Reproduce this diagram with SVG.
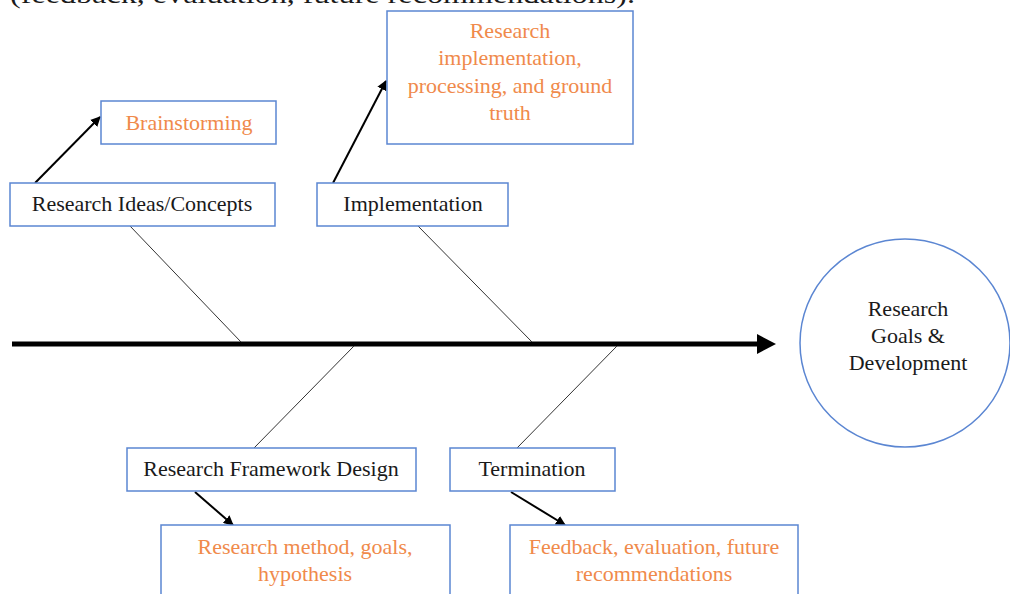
<svg xmlns="http://www.w3.org/2000/svg" width="1010" height="594" viewBox="0 0 1010 594">
  <defs>
    <style>
      .box { fill: #ffffff; stroke: #5b86d2; stroke-width: 1.5; }
      .lbl { font-family: "Liberation Serif", "Times New Roman", serif; font-size: 22px; fill: #1a1a1a; text-anchor: middle; }
      .sub { font-family: "Liberation Serif", "Times New Roman", serif; font-size: 22px; fill: #f08a4b; text-anchor: middle; }
      .bone { stroke: #333333; stroke-width: 1; fill: none; }
      .arr { stroke: #000000; stroke-width: 2; fill: none; marker-end: url(#head); }
    </style>
    <marker id="head" viewBox="0 0 10 10" refX="9" refY="5" markerWidth="5" markerHeight="5" orient="auto" markerUnits="strokeWidth">
      <path d="M0,0 L10,5 L0,10 z" fill="#000000"/>
    </marker>
  </defs>
  <rect width="1010" height="594" fill="#ffffff"/>

  <!-- caption line running off the top edge -->
  <text x="10" y="3" font-family="Liberation Serif, Times New Roman, serif" font-size="26" fill="#1a1a1a" textLength="625" lengthAdjust="spacingAndGlyphs">(feedback, evaluation, future recommendations).</text>

  <!-- connectors: spine, bones and sub-cause arrows -->
  <g id="connectors">
    <line x1="12" y1="344" x2="759" y2="344" stroke="#000000" stroke-width="5"/>
    <polygon points="757,334 776,344 757,354" fill="#000000"/>
    <line class="bone" x1="130" y1="226" x2="241" y2="342"/>
    <line class="bone" x1="418" y1="226" x2="532" y2="342"/>
    <line class="bone" x1="354" y1="346" x2="254" y2="448"/>
    <line class="bone" x1="617" y1="346" x2="517" y2="448"/>
    <line class="arr" x1="35" y1="183" x2="100" y2="117"/>
    <line class="arr" x1="333" y1="183" x2="386" y2="81"/>
    <line class="arr" x1="195" y1="492" x2="233" y2="525"/>
    <line class="arr" x1="511" y1="492" x2="565" y2="525"/>
  </g>

  <g id="brainstorming">
    <rect class="box" x="101" y="101" width="175" height="43"/>
    <text class="sub" x="189" y="130">Brainstorming</text>
  </g>

  <g id="ideas">
    <rect class="box" x="10" y="183" width="265" height="43"/>
    <text class="lbl" x="142" y="211">Research Ideas/Concepts</text>
  </g>

  <g id="implementation">
    <rect class="box" x="317" y="183" width="191" height="43"/>
    <text class="lbl" x="413" y="211">Implementation</text>
  </g>

  <g id="impl-detail">
    <rect class="box" x="387" y="11" width="246" height="133"/>
    <text class="sub" x="510" y="38">Research</text>
    <text class="sub" x="510" y="65">implementation,</text>
    <text class="sub" x="510" y="93">processing, and ground</text>
    <text class="sub" x="510" y="120">truth</text>
  </g>

  <g id="framework">
    <rect class="box" x="127" y="448" width="289" height="43"/>
    <text class="lbl" x="271" y="476">Research Framework Design</text>
  </g>

  <g id="termination">
    <rect class="box" x="450" y="448" width="165" height="43"/>
    <text class="lbl" x="532" y="476">Termination</text>
  </g>

  <g id="framework-detail">
    <rect class="box" x="161" y="525" width="289" height="80"/>
    <text class="sub" x="305" y="554">Research method, goals,</text>
    <text class="sub" x="305" y="581">hypothesis</text>
  </g>

  <g id="termination-detail">
    <rect class="box" x="510" y="525" width="288" height="80"/>
    <text class="sub" x="654" y="554">Feedback, evaluation, future</text>
    <text class="sub" x="654" y="581">recommendations</text>
  </g>

  <g id="goal">
    <ellipse cx="905" cy="343" rx="105" ry="104" fill="#ffffff" stroke="#5b86d2" stroke-width="1.5"/>
    <text class="lbl" x="908" y="316">Research</text>
    <text class="lbl" x="908" y="343">Goals &amp;</text>
    <text class="lbl" x="908" y="370">Development</text>
  </g>
</svg>
